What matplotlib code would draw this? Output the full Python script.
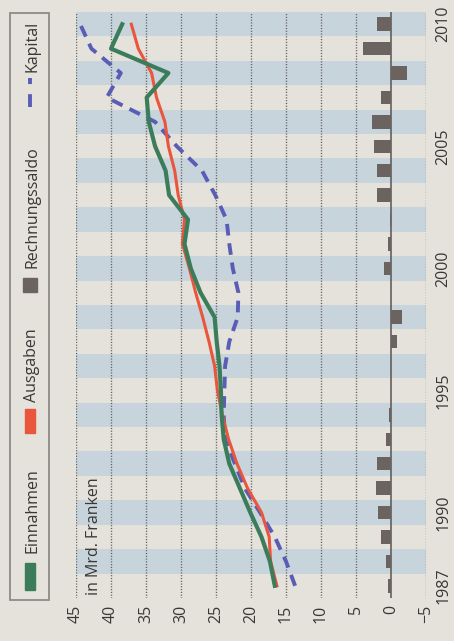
import matplotlib.pyplot as plt
from matplotlib.patches import Rectangle
from matplotlib.lines import Line2D

years = list(range(1987, 2011))
einnahmen = [16.6, 17.3, 18.5, 20.1, 21.6, 23.1, 23.9, 24.2, 24.3, 24.5, 24.9, 25.2,
             27.2, 28.6, 29.5, 29.0, 31.7, 32.2, 33.7, 34.6, 34.9, 31.8, 40.0, 38.4]
ausgaben = [16.3, 17.2, 17.4, 18.5, 20.5, 22.0, 23.2, 24.1, 24.8, 25.2, 26.0, 26.9,
            27.9, 28.8, 29.8, 29.5, 30.4, 30.9, 31.8, 32.3, 33.5, 34.2, 36.1, 37.1]
kapital = [13.7, 15.0, 16.6, 18.7, 20.9, 22.3, 23.7, 23.9, 23.8, 23.7, 23.1, 21.9,
           21.8, 22.6, 23.1, 23.5, 25.1, 27.0, 30.6, 33.7, 40.6, 38.6, 42.8, 44.4]
saldo = [0.5, 0.7, 1.5, 1.8, 2.2, 2.0, 0.7, 0.3, 0.0, 0.05, -0.8, -1.5,
         0.05, 1.0, 0.4, 0.1, 2.0, 2.0, 2.4, 2.7, 1.4, -2.3, 4.0, 2.0]

value_ticks = [45, 40, 35, 30, 25, 20, 15, 10, 5, 0, -5]
year_ticks = [1987, 1990, 1995, 2000, 2005, 2010]

paper = "#e4e2da"
stripe = "#c8d4dc"
green = "#3b7d5b"
red = "#e9553d"
blue = "#5a5db5"
bar_grey = "#6b6360"
text_col = "#3a3836"

plt.rcParams['font.family'] = ['Open Sans', 'DejaVu Sans']

W, H = 454, 641
fig = plt.figure(figsize=(W / 100, H / 100), dpi=100, facecolor=paper)

# the whole chart is turned 90 degrees: values run right-to-left, years bottom-to-top
ax = fig.add_axes([76 / W, 1 - 598 / H, 350 / W, 586 / H])
ax.set_facecolor(paper)

for yr in years:
    if yr % 2 == 0:
        ax.axhspan(yr - 0.5, yr + 0.5, color=stripe, lw=0, zorder=0)

for v in value_ticks:
    if v != 0:
        ax.axvline(v, color="#5f5d58", lw=1.0, ls=(0, (0.8, 1.2)), zorder=1)
ax.axvline(0, color="#5a5551", lw=1.1, zorder=2)

ax.barh(years, saldo, height=0.55, color=bar_grey, zorder=3)
ax.plot(kapital, years, color=blue, lw=2.8, ls=(0, (3.0, 2.0)), zorder=4)
ax.plot(ausgaben, years, color=red, lw=2.2, zorder=5)
ax.plot(einnahmen, years, color=green, lw=3.0, zorder=6)

ax.set_xlim(45, -5)
ax.set_ylim(1986.5, 2010.5)

ax.set_xticks(value_ticks)
ax.set_xticklabels([str(v).replace('-', '\u2212') for v in value_ticks],
                   rotation=90, fontsize=11.5, color=text_col)
ax.set_yticks(year_ticks)
ax.yaxis.tick_right()
ax.set_yticklabels([str(y) for y in year_ticks], rotation=90, va='center',
                   fontsize=11.5, color=text_col)
ax.tick_params(length=0)
ax.tick_params(axis='x', pad=5)
ax.tick_params(axis='y', pad=7)
for s in ax.spines.values():
    s.set_visible(False)

ax.text(0.03, 0.005, "in Mrd. Franken", transform=ax.transAxes, rotation=90,
        ha='left', va='bottom', fontsize=11.5, color=text_col, zorder=7)

# legend box, drawn by hand because it is rotated as well
def fx(x):
    return x / W

def fy(y):
    return 1 - y / H

fig.patches.append(Rectangle((fx(10), fy(600)), fx(39), 587 / H, transform=fig.transFigure,
                             facecolor=paper, edgecolor="#8d8b85", lw=1.3))
fig.patches.append(Rectangle((fx(25), fy(590)), fx(10), 27 / H, transform=fig.transFigure,
                             color=green))
fig.patches.append(Rectangle((fx(25), fy(433)), fx(10), 24 / H, transform=fig.transFigure,
                             color=red))
fig.patches.append(Rectangle((fx(23), fy(292)), fx(14), 14 / H, transform=fig.transFigure,
                             color=bar_grey))
fig.lines.append(Line2D([fx(30), fx(30)], [fy(107), fy(78)], transform=fig.transFigure,
                        color=blue, lw=2.8, ls=(0, (3.3, 2.6))))

legend_items = [("Einnahmen", 553), ("Ausgaben", 402), ("Rechnungssaldo", 268), ("Kapital", 72)]
for label, ystart in legend_items:
    fig.text(fx(32), fy(ystart), label, rotation=90, ha='center', va='bottom',
             fontsize=11.5, color=text_col)

fig.savefig("out.png", dpi=100, facecolor=paper)
